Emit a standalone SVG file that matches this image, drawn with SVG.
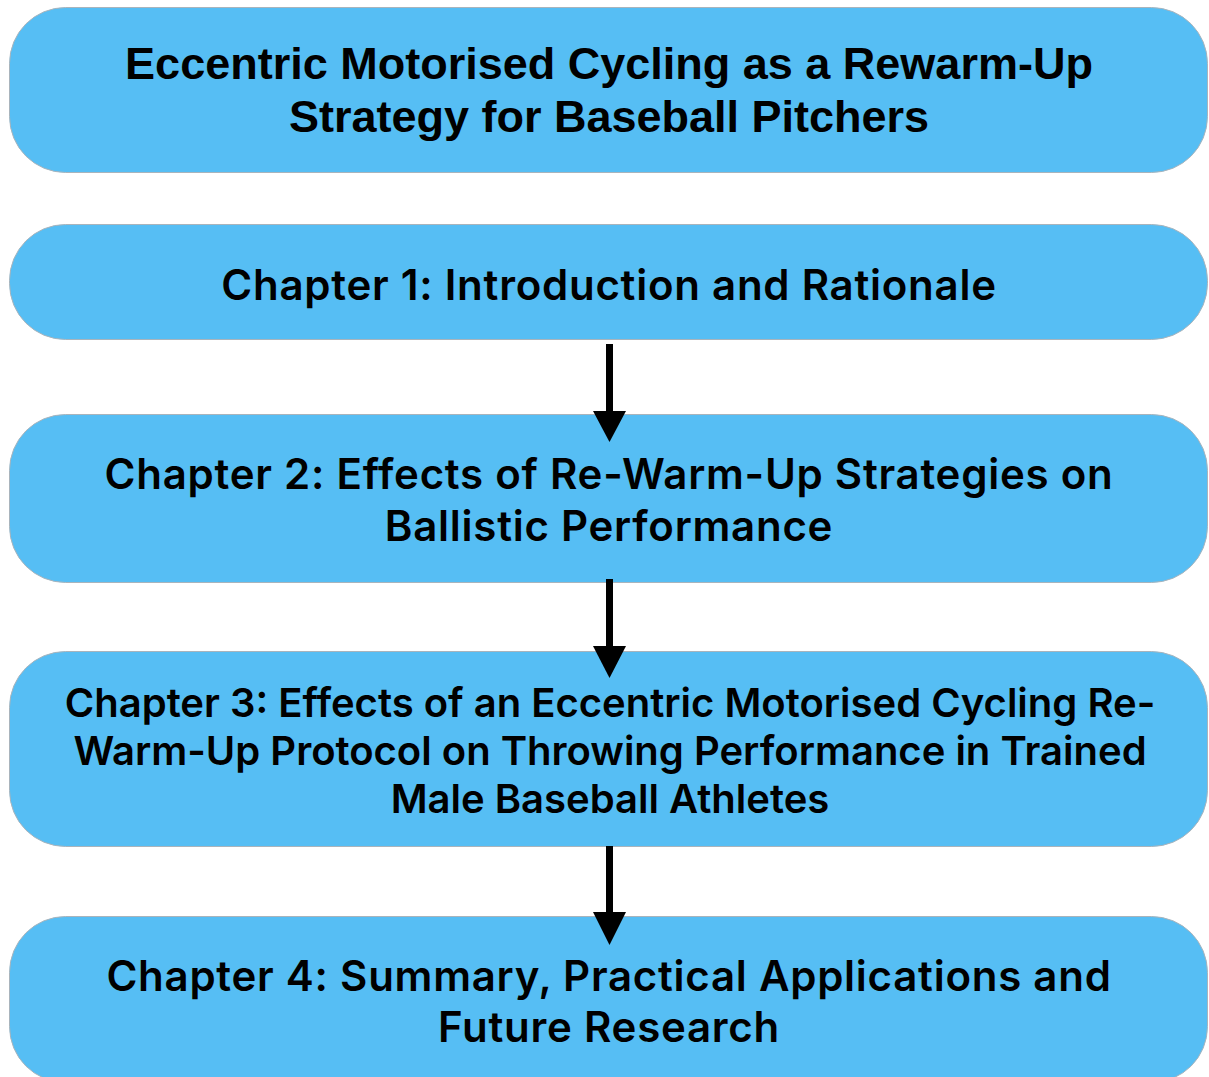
<svg xmlns="http://www.w3.org/2000/svg" width="1209" height="1077" viewBox="0 0 1209 1077">
  <defs>
    <style>
      .box { fill: #56BEF4; stroke: #A9B4BC; stroke-width: 1; }
      .title { font-family: "Liberation Sans", Arial, sans-serif; font-weight: bold; font-size: 45px; fill: #000; text-anchor: middle; }
      .label { font-family: Inter, "Noto Sans", sans-serif; font-weight: 600; font-size: 42px; letter-spacing: 0.75px; fill: #000; text-anchor: middle; }
      .label.small { font-size: 40px; letter-spacing: 0; }
      .link { stroke: #000; stroke-width: 7; fill: none; }
      .head { fill: #000; }
    </style>
  </defs>

  <rect width="1209" height="1077" fill="#ffffff"/>

  <!-- thesis title -->
  <g id="node-title">
    <rect class="box" x="9.5" y="7.5" width="1198" height="165" rx="56" ry="56"/>
    <text class="title" x="609" y="79">Eccentric Motorised Cycling as a Rewarm-Up</text>
    <text class="title" x="609" y="132">Strategy for Baseball Pitchers</text>
  </g>

  <!-- chapter 1 -->
  <g id="node-ch1">
    <rect class="box" x="9.5" y="224.5" width="1198" height="115" rx="56" ry="56"/>
    <text class="label" x="609" y="300">Chapter 1: Introduction and Rationale</text>
  </g>

  <!-- chapter 2 -->
  <g id="node-ch2">
    <rect class="box" x="9.5" y="414.5" width="1198" height="168" rx="56" ry="56"/>
    <text class="label" x="609" y="489">Chapter 2: Effects of Re-Warm-Up Strategies on</text>
    <text class="label" x="609" y="541">Ballistic Performance</text>
  </g>

  <!-- chapter 3 -->
  <g id="node-ch3">
    <rect class="box" x="9.5" y="651.5" width="1198" height="195" rx="56" ry="56"/>
    <text class="label small" x="610" y="717">Chapter 3: Effects of an Eccentric Motorised Cycling Re-</text>
    <text class="label small" x="610" y="765">Warm-Up Protocol on Throwing Performance in Trained</text>
    <text class="label small" x="610" y="813">Male Baseball Athletes</text>
  </g>

  <!-- chapter 4 -->
  <g id="node-ch4">
    <rect class="box" x="9.5" y="916.5" width="1198" height="166" rx="56" ry="56"/>
    <text class="label" x="609" y="991">Chapter 4: Summary, Practical Applications and</text>
    <text class="label" x="609" y="1042">Future Research</text>
  </g>

  <!-- connectors between chapters -->
  <g id="connectors">
    <line class="link" x1="609.5" y1="344" x2="609.5" y2="413"/>
    <polygon class="head" points="593,411 626,411 609.5,442"/>
    <line class="link" x1="609.5" y1="579" x2="609.5" y2="648"/>
    <polygon class="head" points="593,646 626,646 609.5,678"/>
    <line class="link" x1="609.5" y1="846" x2="609.5" y2="914"/>
    <polygon class="head" points="593,912 626,912 609.5,945"/>
  </g>
</svg>
